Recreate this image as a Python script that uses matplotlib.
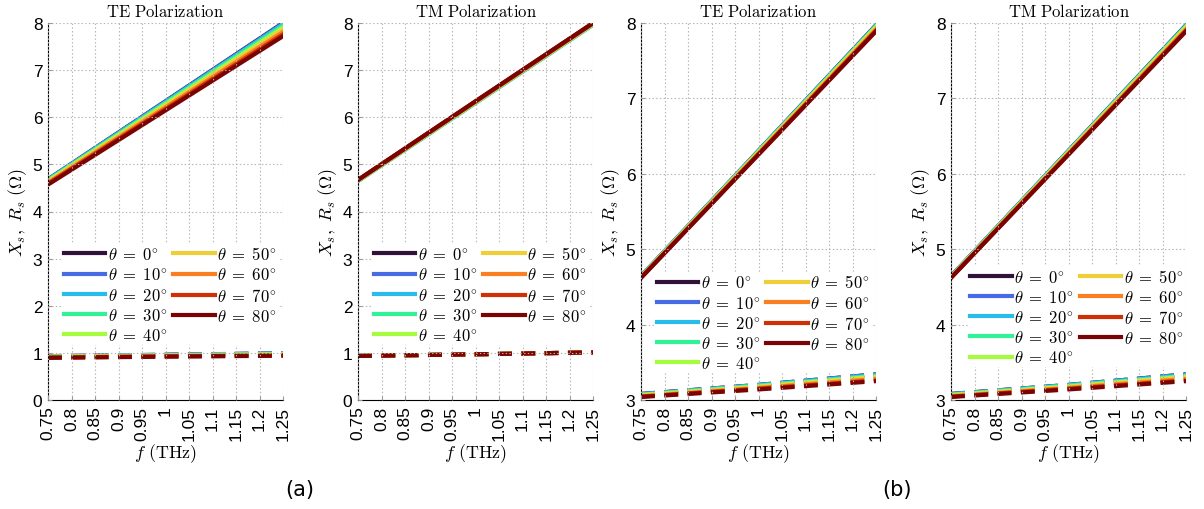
import numpy as np
import matplotlib
matplotlib.use("Agg")
import matplotlib.pyplot as plt

plt.rcParams['mathtext.fontset'] = 'cm'
plt.rcParams['font.family'] = ['Liberation Sans', 'DejaVu Sans']
plt.rcParams['lines.scale_dashes'] = False

# Frequency points (THz) where values were read
freq = [0.75, 1.0, 1.25]
angles = [0, 10, 20, 30, 40, 50, 60, 70, 80]

# (a) TE
xs_a_te = [[4.68, 6.34, 8.00], [4.68, 6.335, 7.99], [4.67, 6.32, 7.97],
           [4.66, 6.30, 7.94], [4.65, 6.275, 7.90], [4.63, 6.245, 7.86],
           [4.61, 6.21, 7.81], [4.59, 6.175, 7.76], [4.57, 6.145, 7.72]]
rs_a_te = [[0.93, 0.96, 0.99], [0.93, 0.96, 0.99], [0.925, 0.955, 0.985],
           [0.92, 0.95, 0.98], [0.915, 0.945, 0.97], [0.91, 0.94, 0.96],
           [0.905, 0.93, 0.955], [0.90, 0.925, 0.945], [0.895, 0.92, 0.94]]
# (a) TM
xs_a_tm = [[4.66, 6.33, 7.99], [4.655, 6.32, 7.98], [4.645, 6.30, 7.96],
           [4.65, 6.31, 7.97], [4.655, 6.315, 7.975], [4.66, 6.32, 7.98],
           [4.665, 6.33, 7.99], [4.67, 6.335, 7.995], [4.67, 6.34, 8.00]]
rs_a_tm = [[0.935, 0.97, 1.01], [0.935, 0.97, 1.01], [0.935, 0.97, 1.01],
           [0.935, 0.97, 1.01], [0.935, 0.97, 1.01], [0.935, 0.97, 1.01],
           [0.935, 0.97, 1.01], [0.935, 0.97, 1.01], [0.935, 0.97, 1.01]]
# (b) TE
xs_b_te = [[4.64, 6.305, 7.97], [4.64, 6.305, 7.97], [4.64, 6.30, 7.96],
           [4.635, 6.295, 7.955], [4.63, 6.29, 7.95], [4.63, 6.28, 7.93],
           [4.625, 6.27, 7.915], [4.62, 6.26, 7.90], [4.62, 6.255, 7.89]]
rs_b_te = [[3.08, 3.20, 3.34], [3.08, 3.20, 3.34], [3.075, 3.195, 3.33],
           [3.07, 3.19, 3.32], [3.065, 3.18, 3.31], [3.06, 3.17, 3.30],
           [3.05, 3.16, 3.28], [3.045, 3.15, 3.26], [3.04, 3.14, 3.25]]
# (b) TM
xs_b_tm = [[4.64, 6.305, 7.97], [4.64, 6.305, 7.97], [4.64, 6.30, 7.96],
           [4.635, 6.295, 7.955], [4.63, 6.29, 7.95], [4.63, 6.28, 7.93],
           [4.625, 6.27, 7.915], [4.62, 6.26, 7.90], [4.62, 6.255, 7.89]]
rs_b_tm = [[3.08, 3.20, 3.34], [3.08, 3.20, 3.34], [3.075, 3.195, 3.33],
           [3.07, 3.19, 3.32], [3.065, 3.18, 3.31], [3.06, 3.17, 3.30],
           [3.05, 3.16, 3.28], [3.045, 3.15, 3.26], [3.04, 3.14, 3.25]]

xticks = [0.75, 0.8, 0.85, 0.9, 0.95, 1.0, 1.05, 1.1, 1.15, 1.2, 1.25]
xticklabels = ['0.75', '0.8', '0.85', '0.9', '0.95', '1', '1.05', '1.1', '1.15', '1.2', '1.25']

colors = plt.cm.turbo(np.linspace(0, 1, len(angles)))

fig = plt.figure(figsize=(12.04, 5.10), dpi=100)
W, H = 1204, 510

panels = [
    (48, "TE Polarization", xs_a_te, rs_a_te, (0, 8), 0.415, 0.06),
    (358, "TM Polarization", xs_a_tm, rs_a_tm, (0, 8), 0.415, 0.06),
    (641, "TE Polarization", xs_b_te, rs_b_te, (3, 8), 0.34, 0.06),
    (951, "TM Polarization", xs_b_tm, rs_b_tm, (3, 8), 0.355, 0.075),
]

for left, title, xs, rs, ylim, leg_y, leg_x in panels:
    ax = fig.add_axes([left / W, (H - 401) / H, 235 / W, 377 / H])
    for i, a in enumerate(angles):
        ax.plot(freq, xs[i], color=colors[i], lw=3,
                label=r'$\theta\;=\;%d^{\circ}$' % a)
        ax.plot(freq, rs[i], color=colors[i], lw=3, dashes=(10, 6.8))
    ax.set_xlim(0.75, 1.25)
    ax.set_ylim(*ylim)
    ax.set_xticks(xticks)
    ax.set_xticklabels(xticklabels, rotation=90)
    ax.tick_params(labelsize=12.5, direction='in', length=3, color='#999999', pad=4)
    ax.grid(True, linestyle=':', color='#b4b4b4', lw=0.8)
    ax.set_axisbelow(False)
    ax.spines['top'].set_visible(False)
    ax.spines['right'].set_visible(False)
    ax.set_title(r'$\mathrm{%s}$' % title.replace(' ', r'\ '), fontsize=12, pad=5)
    ax.set_xlabel(r'$f\ (\mathrm{THz})$', fontsize=13, labelpad=1)
    ax.set_ylabel(r'$X_s,\ R_s\ (\Omega)$', fontsize=13, labelpad=3)
    leg = ax.legend(ncol=2, loc='upper left', bbox_to_anchor=(leg_x, leg_y),
                    fontsize=12, handlelength=2.5, handletextpad=0.15,
                    columnspacing=0.35, labelspacing=0.25, borderpad=0.1,
                    borderaxespad=0, frameon=True, fancybox=False)
    leg.get_frame().set_edgecolor('none')
    leg.get_frame().set_facecolor('white')
    leg.get_frame().set_alpha(1)

fig.text(300 / W, 1 - 490 / H, '(a)', fontsize=15, ha='center', va='center',
         family='DejaVu Sans')
fig.text(897 / W, 1 - 490 / H, '(b)', fontsize=15, ha='center', va='center',
         family='DejaVu Sans')

fig.savefig("out.png", dpi=100)
